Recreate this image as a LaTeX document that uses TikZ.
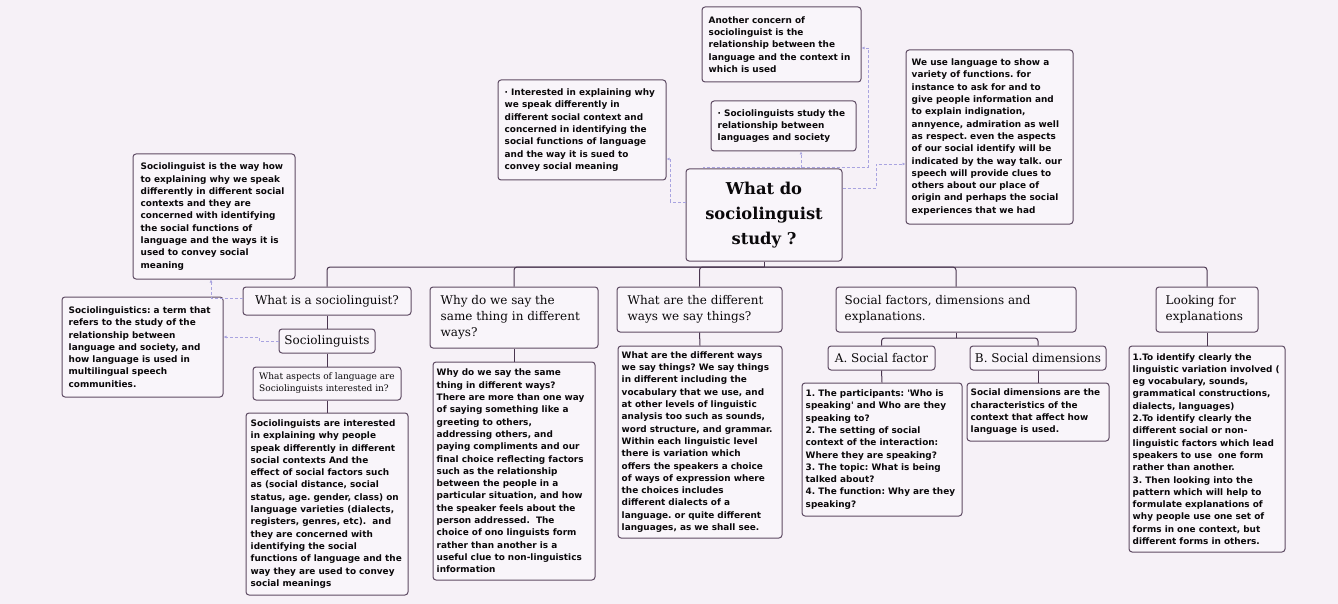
\documentclass[tikz,border=0pt]{standalone}
\usepackage{fontspec}
\usetikzlibrary{arrows.meta}
\newfontfamily\bodyf{DejaVu Sans}
\newfontfamily\headf{DejaVu Serif}
\definecolor{bgc}{HTML}{F6F1F7}
\definecolor{boxf}{HTML}{F9F5FA}
\definecolor{boxc}{HTML}{5E4B63}
\definecolor{treec}{HTML}{4A3650}
\definecolor{dashc}{HTML}{A9A4E0}
\definecolor{txt}{HTML}{0A080A}
\frenchspacing
\newcommand\bodyfont{\bodyf\bfseries\fontsize{8.9}{12.3}\selectfont\frenchspacing}
\newcommand\headfont{\headf\fontsize{12}{16}\selectfont\frenchspacing}
\newcommand\headsmall{\headf\fontsize{9}{12}\selectfont\frenchspacing}
\newcommand\titlefont{\headf\bfseries\fontsize{16.3}{25}\selectfont}
\tikzset{
  bx/.style={draw=boxc, fill=boxf, rounded corners=3pt, line width=1pt, inner sep=0pt},
  bt/.style={font=\bodyfont, align=left, inner sep=0pt, text=txt},
  ht/.style={font=\headfont, align=left, inner sep=0pt, text=txt},
  tree/.style={draw=treec, line width=1pt, rounded corners=3pt},
  dsh/.style={draw=dashc, line width=0.8pt, dash pattern=on 3pt off 2pt, -{Latex[length=3pt,width=3pt]}},
}
\begin{document}
\begin{tikzpicture}[x=1pt,y=-1pt]
\useasboundingbox (0,0) rectangle (1338,604);
\fill[bgc] (0,0) rectangle (1338,604);

% ---------- boxes ----------
\node[bx, minimum width=159pt, minimum height=75pt]  (concern) at (781.5,44.5) {};
\node[bx, minimum width=168pt, minimum height=100pt] (interested) at (582,130) {};
\node[bx, minimum width=145pt, minimum height=50pt]  (study) at (783.5,126) {};
\node[bx, minimum width=156pt, minimum height=92pt]  (title) at (764,215) {};
\node[bx, minimum width=167pt, minimum height=174pt] (weuse) at (989.5,137) {};
\node[bx, minimum width=162pt, minimum height=125pt] (way) at (214,216.5) {};
\node[bx, minimum width=161pt, minimum height=100pt] (term) at (142.5,347) {};
\node[bx, minimum width=168pt, minimum height=28pt]  (whatis) at (327,301) {};
\node[bx, minimum width=96pt,  minimum height=24pt]  (socs) at (327,341) {};
\node[bx, minimum width=148pt, minimum height=33pt]  (aspects) at (327,383.5) {};
\node[bx, minimum width=162pt, minimum height=182pt] (intbody) at (327,504) {};
\node[bx, minimum width=168pt, minimum height=61pt]  (why) at (514,317.5) {};
\node[bx, minimum width=162pt, minimum height=218pt] (whybody) at (514,471) {};
\node[bx, minimum width=165pt, minimum height=45pt]  (diff) at (699.5,309.5) {};
\node[bx, minimum width=164pt, minimum height=192pt] (diffbody) at (700,442) {};
\node[bx, minimum width=240pt, minimum height=45pt]  (socfac) at (956,309.5) {};
\node[bx, minimum width=107pt, minimum height=24pt]  (sfa) at (881.5,358) {};
\node[bx, minimum width=136pt, minimum height=24pt]  (sfb) at (1038,358) {};
\node[bx, minimum width=160pt, minimum height=133pt] (abody) at (882,449.5) {};
\node[bx, minimum width=142pt, minimum height=58pt]  (bbody) at (1038,412) {};
\node[bx, minimum width=102pt, minimum height=45pt]  (look) at (1207,309.5) {};
\node[bx, minimum width=156pt, minimum height=206pt] (lookbody) at (1207,449) {};

% ---------- texts ----------
\node[bt, anchor=west] (tconcern) at ([xshift=7pt]concern.west) {Another concern of\\sociolinguist is the\\relationship between the\\language and the context in\\which is used};
\node[bt, anchor=west] (tinterested) at ([xshift=7pt]interested.west) {· Interested in explaining why\\we speak differently in\\different social context and\\concerned in identifying the\\social functions of language\\and the way it is sued to\\convey social meaning};
\node[bt, anchor=west] (tstudy) at ([xshift=7pt]study.west) {· Sociolinguists study the\\relationship between\\languages and society};
\node[font=\titlefont, align=center, inner sep=0pt, text=txt] (ttitle) at (title.center) {What do\\sociolinguist\\study ?};
\node[bt, anchor=west] (tweuse) at ([xshift=6pt]weuse.west) {We use language to show a\\variety of functions. for\\instance to ask for and to\\give people information and\\to explain indignation,\\annyence, admiration as well\\as respect. even the aspects\\of our social identify will be\\indicated by the way talk. our\\speech will provide clues to\\others about our place of\\origin and perhaps the social\\experiences that we had};
\node[bt, anchor=west] (tway) at ([xshift=8pt]way.west) {Sociolinguist is the way how\\to explaining why we speak\\differently in different social\\contexts and they are\\concerned with identifying\\the social functions of\\language and the ways it is\\used to convey social\\meaning};
\node[bt, anchor=west] (tterm) at ([xshift=7pt]term.west) {Sociolinguistics: a term that\\refers to the study of the\\relationship between\\language and society, and\\how language is used in\\multilingual speech\\communities.};
\node[ht] (twhatis) at (whatis.center) {What is a sociolinguist?};
\node[ht] (tsocs) at (socs.center) {Sociolinguists};
\node[ht, font=\headsmall] (taspects) at (aspects.center) {What aspects of language are\\Sociolinguists interested in?};
\node[bt, anchor=west] (tintbody) at ([xshift=5pt]intbody.west) {Sociolinguists are interested\\in explaining why people\\speak differently in different\\social contexts And the\\effect of social factors such\\as (social distance, social\\status, age. gender, class) on\\language varieties (dialects,\\registers, genres, etc).\ \ and\\they are concerned with\\identifying the social\\functions of language and the\\way they are used to convey\\social meanings};
\node[ht, anchor=west] (twhy) at ([xshift=11pt]why.west) {Why do we say the\\same thing in different\\ways?};
\node[bt, anchor=west] (twhybody) at ([xshift=4pt]whybody.west) {Why do we say the same\\thing in different ways?\\There are more than one way\\of saying something like a\\greeting to others,\\addressing others, and\\paying compliments and our\\final choice reflecting factors\\such as the relationship\\between the people in a\\particular situation, and how\\the speaker feels about the\\person addressed.\ \ The\\choice of ono linguists form\\rather than another is a\\useful clue to non-linguistics\\information};
\node[ht, anchor=west] (tdiff) at ([xshift=11pt]diff.west) {What are the different\\ways we say things?};
\node[bt, anchor=west] (tdiffbody) at ([xshift=4pt]diffbody.west) {What are the different ways\\we say things? We say things\\in different including the\\vocabulary that we use, and\\at other levels of linguistic\\analysis too such as sounds,\\word structure, and grammar.\\Within each linguistic level\\there is variation which\\offers the speakers a choice\\of ways of expression where\\the choices includes\\different dialects of a\\language. or quite different\\languages, as we shall see.};
\node[ht, anchor=west] (tsocfac) at ([xshift=9pt]socfac.west) {Social factors, dimensions and\\explanations.};
\node[ht] (tsfa) at (sfa.center) {A. Social factor};
\node[ht] (tsfb) at (sfb.center) {B. Social dimensions};
\node[bt, anchor=west] (tabody) at ([xshift=4pt]abody.west) {1. The participants: 'Who is\\speaking' and Who are they\\speaking to?\\2. The setting of social\\context of the interaction:\\Where they are speaking?\\3. The topic: What is being\\talked about?\\4. The function: Why are they\\speaking?};
\node[bt, anchor=west] (tbbody) at ([xshift=4pt]bbody.west) {Social dimensions are the\\characteristics of the\\context that affect how\\language is used.};
\node[ht, anchor=west] (tlook) at ([xshift=10pt]look.west) {Looking for\\explanations};
\node[bt, anchor=west] (tlookbody) at ([xshift=4pt]lookbody.west) {1.To identify clearly the\\linguistic variation involved (\\eg vocabulary, sounds,\\grammatical constructions,\\dialects, languages)\\2.To identify clearly the\\different social or non-\\linguistic factors which lead\\speakers to use\ \ one form\\rather than another.\\3. Then looking into the\\pattern which will help to\\formulate explanations of\\why people use one set of\\forms in one context, but\\different forms in others.};

% ---------- tree connectors ----------
\coordinate (hub) at (764,267);
\coordinate (sfhub) at (956,338);
\draw[tree] (title.south) -- (hub);
\draw[tree] (hub) -| (whatis.north);
\draw[tree] (hub) -| (why.north);
\draw[tree] (hub) -| (diff.north);
\draw[tree] (hub) -| (socfac.north);
\draw[tree] (hub) -| (look.north);
\draw[tree] (whatis.south) -- (socs.north);
\draw[tree] (socs.south) -- (aspects.north);
\draw[tree] (aspects.south) -- (intbody.north);
\draw[tree] (why.south) -- (whybody.north);
\draw[tree] (diff.south) -- (diffbody.north);
\draw[tree] (socfac.south) -- (sfhub);
\draw[tree] (sfhub) -| (sfa.north);
\draw[tree] (sfhub) -| (sfb.north);
\draw[tree] (sfa.south) -- (abody.north);
\draw[tree] (sfb.south) -- (bbody.north);
\draw[tree] (look.south) -- (lookbody.north);

% ---------- dashed connectors ----------
\draw[dsh] (title.west |- 0,202) -| (670,159) -- (interested.east |- 0,159);
\draw[dsh] (title.north -| 703,0) |- (868,167) -- (868,48) -- (concern.east |- 0,48);
\draw[dsh] (title.north -| 801,0) -- (study.south -| 801,0);
\draw[dsh] (title.east |- 0,188) -| (876,164) -- (weuse.west |- 0,164);
\draw[dsh] (whatis.west |- 0,298) -| (way.south -| 211,0);
\draw[dsh] (socs.west) -- (259,341) |- (term.east |- 0,337);
\end{tikzpicture}
\end{document}
